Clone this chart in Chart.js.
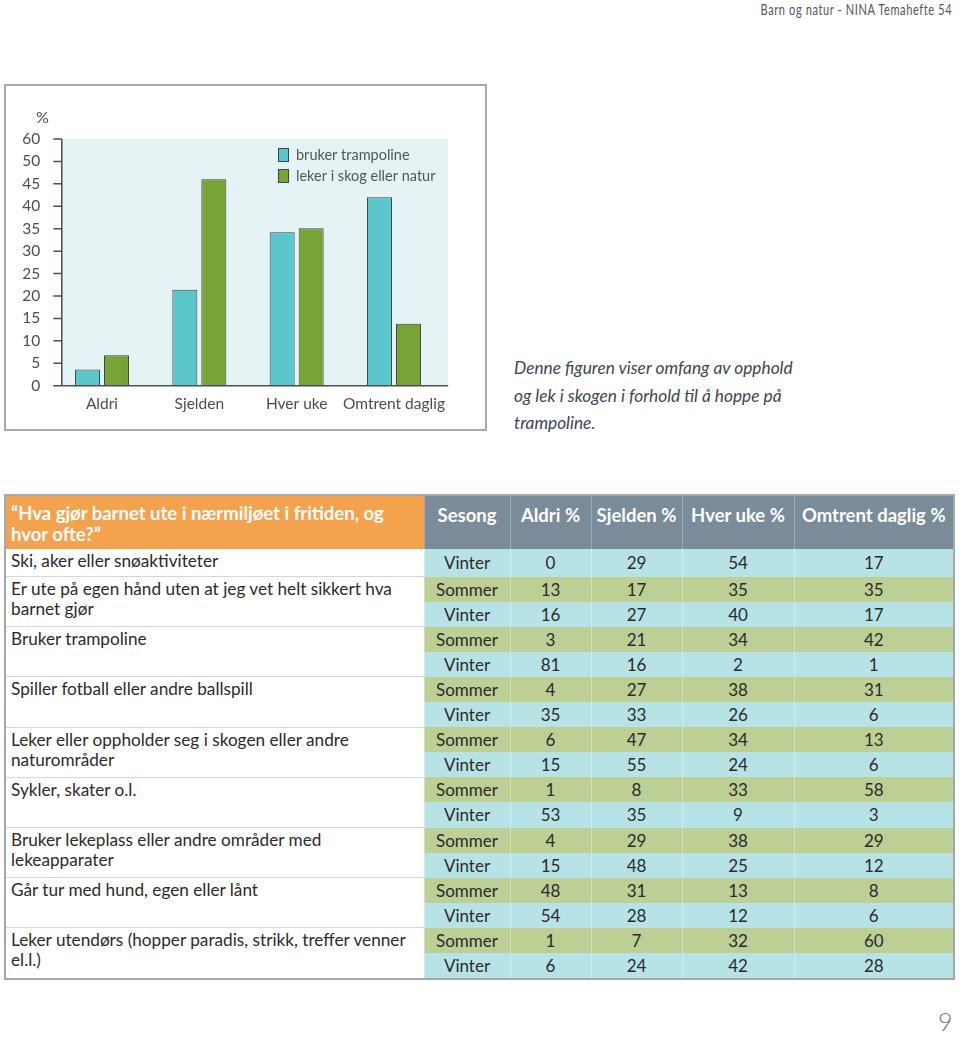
<!DOCTYPE html>
<html>
<head>
<meta charset="utf-8">
<script src="https://cdn.jsdelivr.net/npm/chart.js@4/dist/chart.umd.min.js"></script>
<style>
  html, body { margin:0; padding:0; background:#fff; }
  body { width:960px; height:1037px; position:relative; overflow:hidden; font-family: Lato, "Open Sans", sans-serif; }
  #hdr { position:absolute; right:8px; top:1px; font-size:14.5px; color:#555; transform:scaleX(0.76); transform-origin:right center; white-space:nowrap; letter-spacing:0.8px; }
  #box { position:absolute; left:4px; top:84px; width:479px; height:343px; border:2px solid #a3abb0; background:#fff; }
  #cv { position:absolute; left:0px; top:0px; }
  #pct { position:absolute; left:30px; top:21px; font-size:16px; color:#4d4d4d; }
  #caption { position:absolute; left:514px; top:354px; font-size:17.3px; line-height:27.5px; font-style:italic; color:#3c4752; white-space:nowrap; }
  #tbl { position:absolute; left:4px; top:494px; border-collapse:collapse; table-layout:fixed; border:2px solid #a0a9ae; font-size:17px; color:#2b2b2b; }
  #tbl th { height:45px; padding:0; font-weight:bold; color:#fff; font-size:18.5px; vertical-align:top; }
  #tbl th.q { background:#f5a24e; text-align:left; padding:7px 0 0 5px; line-height:21px; font-size:18.5px; white-space:nowrap; }
  #tbl th.g { background:#7a8c99; padding-top:8px; border-left:1px solid #9aaab4; white-space:nowrap; }
  #tbl td { height:25.1px; padding:0; text-align:center; white-space:nowrap; }
  #tbl td.lab { text-align:left; vertical-align:top; padding:2px 0 0 5px; line-height:20px; background:#fff; border-bottom:1px solid #c9dbe1; font-size:17.2px; }
  #tbl tr.s td.v { background:#bccf94; }
  #tbl tr.w td.v { background:#b8e3e6; }
  #tbl td.v { border-left:1px solid rgba(255,255,255,0.35); }
  #pg { position:absolute; left:938px; top:1008px; font-size:25px; line-height:26px; color:#777; font-weight:300; }
</style>
</head>
<body>
<div id="hdr">Barn og natur - NINA Temahefte 54</div>
<div id="box">
  <canvas id="cv" width="479" height="343"></canvas>
  <div id="pct">%</div>
</div>
<div id="caption">Denne figuren viser omfang av opphold<br>og lek i skogen i forhold til å hoppe på<br>trampoline.</div>
<table id="tbl"></table>
<div id="pg">9</div>
<script>
// ---- Chart data ----
const categories = ['Aldri', 'Sjelden', 'Hver uke', 'Omtrent daglig'];
const seriesNames = ['bruker trampoline', 'leker i skog eller natur'];
const trampoline = [3.6, 21.4, 34.2, 42];
const skog = [6.8, 46, 35.1, 13.8];
const yTickLabels = ['0', '5', '10', '15', '20', '25', '30', '35', '40', '45', '50', '60'];

// ---- Table data ----
const tableHeader = ['\u201CHva gjør barnet ute i nærmiljøet i fritiden, og<br>hvor ofte?\u201D', 'Sesong', 'Aldri %', 'Sjelden %', 'Hver uke %', 'Omtrent daglig %'];
const activities = [
  'Ski, aker eller snøaktiviteter',
  'Er ute på egen hånd uten at jeg vet helt sikkert hva<br>barnet gjør',
  'Bruker trampoline',
  'Spiller fotball eller andre ballspill',
  'Leker eller oppholder seg i skogen eller andre<br>naturområder',
  'Sykler, skater o.l.',
  'Bruker lekeplass eller andre områder med<br>lekeapparater',
  'Går tur med hund, egen eller lånt',
  'Leker utendørs (hopper paradis, strikk, treffer venner<br>el.l.)'
];
const activityRows = [1, 2, 2, 2, 2, 2, 2, 2, 2];
const seasons = ['Vinter','Sommer','Vinter','Sommer','Vinter','Sommer','Vinter','Sommer','Vinter','Sommer','Vinter','Sommer','Vinter','Sommer','Vinter','Sommer','Vinter'];
const aldri = [0,13,16,3,81,4,35,6,15,1,53,4,15,48,54,1,6];
const sjelden = [29,17,27,21,16,27,33,47,55,8,35,29,48,31,28,7,24];
const hverUke = [54,35,40,34,2,38,26,34,24,33,9,38,25,13,12,32,42];
const omtrentDaglig = [17,35,17,42,1,31,6,13,6,58,3,29,12,8,6,60,28];

// ---- Build table ----
(function(){
  const t = document.getElementById('tbl');
  const widths = [419, 86, 81, 91, 112, 160];
  let cg = '<colgroup>' + widths.map(w => '<col style="width:' + w + 'px">').join('') + '</colgroup>';
  let h = '<tr>' + tableHeader.map((x, i) => '<th class="' + (i === 0 ? 'q' : 'g') + '">' + x + '</th>').join('') + '</tr>';
  let r = 0, body = '';
  activities.forEach((a, ai) => {
    for (let k = 0; k < activityRows[ai]; k++) {
      const cls = seasons[r] === 'Sommer' ? 's' : 'w';
      body += '<tr class="' + cls + '">';
      if (k === 0) body += '<td class="lab" rowspan="' + activityRows[ai] + '">' + a + '</td>';
      body += '<td class="v">' + seasons[r] + '</td><td class="v">' + aldri[r] + '</td><td class="v">' + sjelden[r] + '</td><td class="v">' + hverUke[r] + '</td><td class="v">' + omtrentDaglig[r] + '</td>';
      body += '</tr>';
      r++;
    }
  });
  t.innerHTML = cg + h + body;
})();

// ---- Chart ----
const FONT = 'Lato, "Open Sans", sans-serif';
const AXIS_OFFSET = 8.5;
const decor = {
  id: 'decor',
  beforeDatasetsDraw(chart) {
    const { ctx, chartArea: a } = chart;
    ctx.save();
    ctx.fillStyle = '#e5f3f5';
    ctx.fillRect(a.left + AXIS_OFFSET, a.top, a.right + 5.5 - (a.left + AXIS_OFFSET), a.bottom - a.top);
    ctx.restore();
  },
  afterDatasetsDraw(chart) {
    const { ctx, chartArea: a, scales } = chart;
    const y = scales.y;
    ctx.save();
    ctx.strokeStyle = '#4a4f52';
    ctx.lineWidth = 1.5;
    const ax = a.left + AXIS_OFFSET;
    ctx.beginPath();
    ctx.moveTo(ax, a.top);
    ctx.lineTo(ax, a.bottom);
    y.ticks.forEach(t => {
      const py = y.getPixelForValue(t.value);
      ctx.moveTo(a.left, py);
      ctx.lineTo(ax, py);
    });
    ctx.moveTo(a.left, a.bottom);
    ctx.lineTo(a.right + 5.5, a.bottom);
    ctx.stroke();
    // legend
    chart.data.datasets.forEach((ds, i) => {
      const lx = 272, ly = 62 + i * 21;
      ctx.fillStyle = ds.backgroundColor;
      ctx.fillRect(lx, ly, 11, 14);
      ctx.strokeStyle = '#3d4448';
      ctx.lineWidth = 1;
      ctx.strokeRect(lx + 0.5, ly + 0.5, 10, 13);
      ctx.fillStyle = '#555';
      ctx.font = '14.5px ' + FONT;
      ctx.textBaseline = 'middle';
      ctx.textAlign = 'left';
      ctx.fillText(ds.label, lx + 18, ly + 7.5);
    });
    ctx.restore();
  }
};

new Chart(document.getElementById('cv'), {
  type: 'bar',
  data: {
    labels: categories,
    datasets: [
      { label: seriesNames[0], data: trampoline, backgroundColor: '#5cc6cd', borderColor: '#3d4448', borderWidth: 1, borderSkipped: 'bottom' },
      { label: seriesNames[1], data: skog, backgroundColor: '#77a535', borderColor: '#3d4448', borderWidth: 1, borderSkipped: 'bottom' }
    ]
  },
  options: {
    responsive: false,
    animation: false,
    devicePixelRatio: 1,
    categoryPercentage: 0.596,
    barPercentage: 0.862,
    layout: { padding: { left: 0, top: 53, right: 42.3, bottom: 0 } },
    plugins: { legend: { display: false }, tooltip: { enabled: false } },
    scales: {
      x: {
        grid: { display: false },
        border: { display: false },
        ticks: { color: '#4d4d4d', font: { family: FONT, size: 15.5 }, padding: 1, maxRotation: 0, autoSkip: false },
        afterFit(s) { s.height = 43.3; }
      },
      y: {
        min: 0, max: 55,
        grid: { display: false },
        border: { display: false },
        ticks: {
          stepSize: 5,
          color: '#4d4d4d',
          font: { family: FONT, size: 15.5 },
          padding: 5,
          callback: (v, i) => yTickLabels[i]
        },
        afterFit(s) { s.width = 47.3; }
      }
    }
  },
  plugins: [decor]
});
</script>
</body>
</html>
